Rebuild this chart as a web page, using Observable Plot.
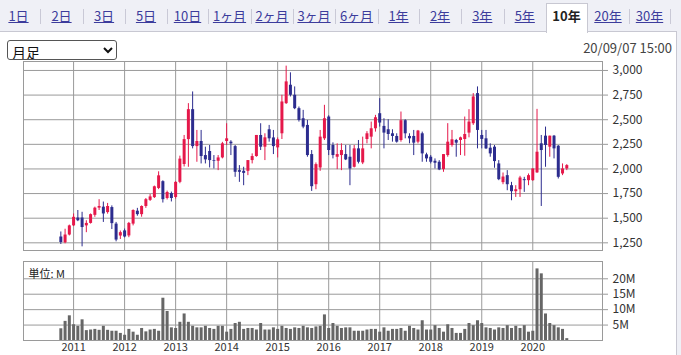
<!DOCTYPE html>
<html><head><meta charset="utf-8">
<script src="https://cdn.jsdelivr.net/npm/d3@7"></script>
<script src="https://cdn.jsdelivr.net/npm/@observablehq/plot@0.6"></script>
<style>
body{margin:0;width:681px;height:355px;overflow:hidden;background:#eff0f6;font-family:"Noto Sans CJK JP","Noto Sans",sans-serif;position:relative;}
#tabs{position:absolute;left:0;top:0;width:681px;height:31px;background:#eff0f6;}
.tab{position:absolute;top:7px;font-size:13px;color:#3c3c9c;text-decoration:underline;transform:translateX(-50%);white-space:nowrap;line-height:18px;}
.tab.on{color:#222;font-weight:bold;text-decoration:none;}
.sep{position:absolute;top:9px;width:1px;height:15px;background:#c9c9d6;}
#active{position:absolute;left:546px;top:3px;width:42px;height:30px;background:#fff;border:1px solid #c8c8d2;border-bottom:none;box-sizing:border-box;z-index:2;}
#panel{position:absolute;left:0;top:31px;width:677px;height:330px;background:#fff;border-top:1px solid #c8c8d2;border-right:1px solid #c8c8d2;box-sizing:border-box;z-index:1;}
#sel{position:absolute;left:7px;top:40px;width:110px;height:20px;font-size:14px;font-family:"Noto Sans CJK JP",sans-serif;z-index:3;border:1px solid #555;border-radius:3px;background:#fff;color:#111;}
#date{position:absolute;right:9px;top:38px;font-size:13px;color:#444;z-index:3;}
#price{position:absolute;left:0;top:56px;z-index:3;}
#vol{position:absolute;left:0;top:255px;z-index:3;}
svg{overflow:visible;}
</style></head><body>
<div id="tabs"></div>
<div id="active"></div>
<div id="panel"></div>
<select id="sel"><option>月足</option></select>
<div id="date">20/09/07 15:00</div>
<div id="price"></div>
<div id="vol"></div>
<script>
// ---- data ----
const tabLabels = ["1日","2日","3日","5日","10日","1ヶ月","2ヶ月","3ヶ月","6ヶ月","1年","2年","3年","5年","10年","20年","30年"];
const activeTab = "10年";
const startMonth = [2010, 10]; // first candle: 2010/10 (monthly candles)
const open  = [1309,1250,1329,1422,1502,1502,1422,1447,1529,1602,1612,1557,1608,1440,1319,1371,1320,1440,1571,1536,1619,1681,1709,1802,1871,1700,1750,1710,1864,2045,2298,2602,2227,2279,2136,2177,2085,2078,2112,2279,2272,2227,1983,1976,1976,2085,2126,2340,2221,2398,2315,2214,2357,2663,2850,2748,2612,2510,2442,2146,1840,2010,2306,2527,2238,2119,2136,2146,2119,2017,2204,2061,2299,2323,2408,2561,2432,2398,2357,2330,2289,2490,2330,2330,2272,2357,2143,2119,2078,2068,1993,2136,2238,2289,2289,2299,2364,2459,2765,2340,2306,2211,2221,2051,1861,1932,1830,1769,1789,1891,1881,1881,1960,2255,2333,2221,2333,2231,1949,2000];
const high  = [1360,1388,1430,1543,1578,1560,1474,1543,1612,1688,1664,1650,1625,1457,1370,1390,1457,1585,1600,1625,1700,1740,1826,1971,1880,1775,1765,1870,2130,2340,2663,2782,2391,2391,2221,2238,2136,2136,2270,2459,2287,2238,2034,2017,2085,2153,2340,2459,2357,2442,2391,2315,2748,3044,2976,2833,2629,2595,2493,2187,2061,2391,2646,2540,2265,2255,2255,2238,2238,2238,2289,2323,2379,2476,2544,2714,2510,2500,2398,2357,2578,2500,2357,2391,2391,2374,2160,2136,2102,2085,2146,2460,2391,2300,2323,2527,2602,2765,2833,2391,2391,2255,2238,2085,1959,1983,1864,1830,1925,1915,1949,2000,2605,2340,2425,2333,2340,2238,2051,2044];
const low   = [1233,1240,1320,1415,1465,1209,1353,1440,1509,1578,1457,1541,1385,1260,1284,1300,1302,1422,1520,1510,1600,1670,1700,1790,1654,1685,1665,1694,1850,2020,2017,2204,2068,2051,2051,2010,2000,1983,2102,2238,2136,1915,1864,1830,1932,2051,2119,2187,2085,2272,2146,2112,2299,2655,2731,2602,2476,2408,2119,1772,1789,1976,2289,2136,2102,1993,1983,2085,1830,2010,2051,2044,2255,2204,2374,2425,2204,2289,2272,2262,2272,2306,2255,2136,2255,2068,2068,2051,2000,1983,1966,2119,2221,2119,2136,2129,2316,2442,2204,2204,2197,2119,2007,1881,1840,1779,1677,1711,1711,1762,1830,1874,1955,1619,2017,2119,2102,1898,1932,1983];
const close = [1253,1329,1422,1509,1474,1405,1447,1536,1602,1619,1543,1619,1445,1278,1353,1309,1447,1578,1536,1619,1688,1716,1819,1930,1688,1761,1700,1864,2100,2298,2602,2227,2279,2126,2092,2085,2078,2112,2255,2306,2255,1966,1966,1955,2085,2126,2340,2221,2316,2306,2227,2296,2680,2884,2748,2612,2493,2425,2136,1820,2044,2323,2510,2187,2136,2146,2187,2092,2000,2204,2068,2204,2357,2408,2520,2466,2364,2350,2330,2272,2490,2357,2306,2262,2385,2153,2102,2068,2058,1990,2146,2272,2296,2262,2316,2350,2476,2731,2391,2300,2204,2153,2075,1891,1918,1840,1769,1789,1908,1881,1932,2000,2170,2187,2238,2333,2204,1915,2000,2034];
const volume = [3.8,6.2,8.0,5.1,4.6,6.7,3.2,3.4,3.6,3.3,4.6,3.3,3.0,3.0,2.3,1.7,3.6,2.7,1.7,3.9,2.8,3.4,3.6,3.0,13.7,9.4,4.1,3.9,5.9,8.6,5.9,4.6,4.1,4.1,4.6,3.9,3.6,4.6,4.6,2.7,3.6,5.5,5.9,3.6,3.9,3.9,3.4,5.5,3.4,3.4,4.1,3.6,4.6,3.9,3.6,4.1,3.9,4.6,4.1,3.9,4.4,4.6,8.3,3.9,5.5,4.6,3.9,4.1,4.1,3.0,3.0,3.0,3.4,3.6,3.6,2.7,4.1,3.0,3.6,3.6,3.9,3.0,4.6,3.9,3.4,6.4,3.4,3.4,4.8,3.9,2.7,5.1,3.9,2.3,2.3,3.6,5.5,4.8,6.4,5.5,4.1,3.9,3.4,4.1,3.9,4.8,3.9,4.6,3.9,4.8,2.7,3.0,23.2,21.6,8.6,5.5,4.8,4.1,3.6,0.6];
const priceTicks = [1250,1500,1750,2000,2250,2500,2750,3000];
const volTicks = [5,10,15,20];
const volUnit = "単位: M";

// ---- header tabs ----
const seps = [40,83,125,167,208,251,293,335,378,419,461,503.5,546,587,629,670];
const tabsEl = document.getElementById("tabs");
tabLabels.forEach((t,k)=>{
  const left = k===0 ? -3 : seps[k-1];
  const s = document.createElement("span");
  s.className = "tab" + (t===activeTab ? " on" : "");
  s.textContent = t;
  s.style.left = ((left+seps[k])/2) + "px";
  s.style.zIndex = 4;
  (t===activeTab ? document.body : tabsEl).appendChild(s);
  if (t!==activeTab && tabLabels[k+1]!==activeTab) {
    const b = document.createElement("span"); b.className="sep"; b.style.left = seps[k]+"px"; tabsEl.appendChild(b);
  }
});

// ---- chart data ----
const data = open.map((o,i)=>({
  i, o, h: high[i], l: low[i], c: close[i], v: volume[i],
  up: close[i] >= o ? "up" : "down",
  date: new Date(Date.UTC(startMonth[0], startMonth[1]-1+i, 1))
}));
const jan = data.filter(d=>d.date.getUTCMonth()===0);
const janIdx = jan.map(d=>d.i);
const yearLabel = new Map(jan.map(d=>[d.i, String(d.date.getUTCFullYear())]));
const xDomain = [-8.78, 127.4];
const red = "#e5184a", blue = "#2c2c8e", grid = "#9a9a9a";
const font = '"Noto Sans CJK JP","Noto Sans",sans-serif';

const price = Plot.plot({
  width: 681, height: 198, marginLeft: 23, marginRight: 79, marginTop: 5, marginBottom: 4,
  x: {domain: xDomain, axis: null},
  y: {domain: [1172, 3091], axis: null},
  color: {domain: ["up","down"], range: [red, blue]},
  style: {background: "transparent", fontFamily: font, fontSize: "12px", color: "#333", overflow: "visible"},
  marks: [
    Plot.ruleY(priceTicks, {stroke: grid, strokeWidth: 1}),
    Plot.ruleX(janIdx, {stroke: grid, strokeWidth: 1}),
    Plot.frame({stroke: grid, strokeWidth: 1}),
    Plot.axisY(priceTicks, {anchor: "right", label: null, tickFormat: d3.format(","), tickSize: 5, tickPadding: 5, stroke: grid, fontSize: 12}),
    Plot.ruleX(data, {x: "i", y1: "l", y2: "h", stroke: "up", strokeWidth: 1}),
    Plot.ruleX(data, {x: "i", y1: "o", y2: "c", stroke: "up", strokeWidth: 3})
  ]
});
document.getElementById("price").appendChild(price);

const vol = Plot.plot({
  width: 681, height: 100, marginLeft: 23, marginRight: 79, marginTop: 6, marginBottom: 15,
  x: {domain: xDomain, label: null},
  y: {domain: [0, 25.6], axis: null, label: null},
  style: {background: "transparent", fontFamily: font, fontSize: "11px", color: "#333", overflow: "visible"},
  marks: [
    Plot.ruleY(volTicks, {stroke: grid, strokeWidth: 1}),
    Plot.ruleX(janIdx, {stroke: grid, strokeWidth: 1}),
    Plot.frame({stroke: grid, strokeWidth: 1}),
    Plot.axisY(volTicks, {anchor: "right", label: null, tickFormat: d => d + "M", tickSize: 5, tickPadding: 5, stroke: grid, fontSize: 12}),
    Plot.axisX(janIdx, {anchor: "bottom", label: null, tickSize: 0, tickPadding: 3, tickFormat: d => yearLabel.get(d), fontSize: 11}),
    Plot.ruleX(data, {x: "i", y1: 0, y2: "v", stroke: "#666", strokeWidth: 3}),
    Plot.text([volUnit], {frameAnchor: "top-left", dx: 5, dy: 9, textAnchor: "start", fontSize: 11, fill: "#222"})
  ]
});
document.getElementById("vol").appendChild(vol);
</script>
</body></html>
